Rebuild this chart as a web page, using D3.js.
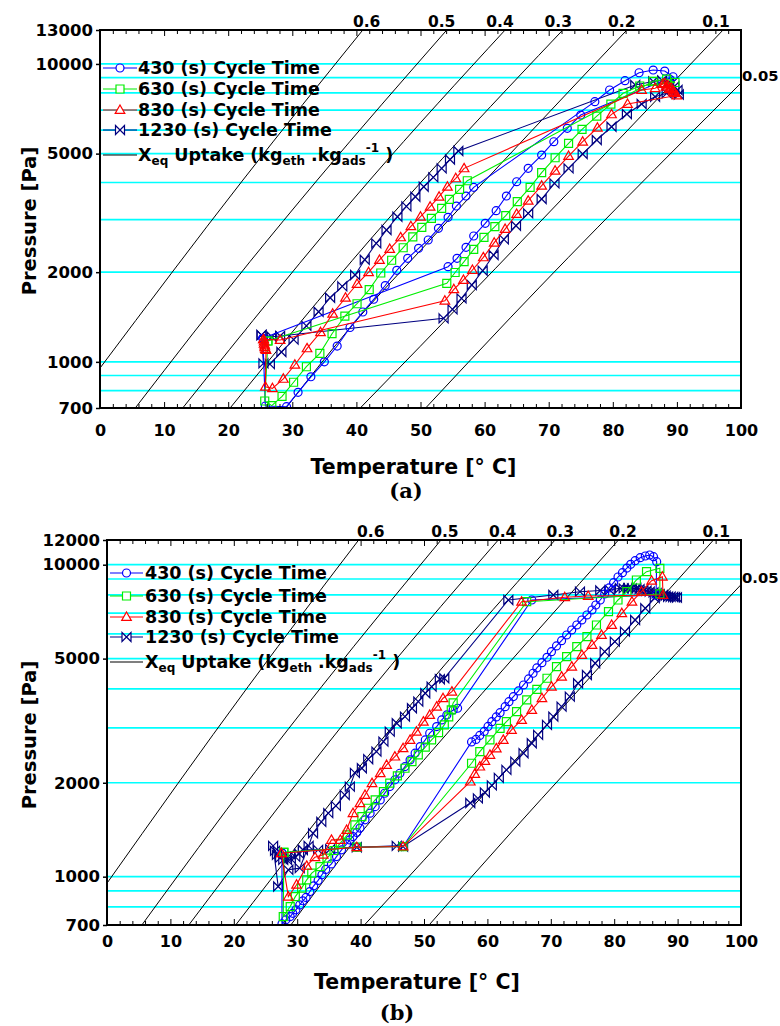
<!DOCTYPE html>
<html><head><meta charset="utf-8">
<script src="https://cdn.jsdelivr.net/npm/d3@7"></script>
<style>
body{margin:0;background:#fff;}
svg text{font-family:"DejaVu Sans",Verdana,sans-serif;font-weight:bold;fill:#000;}
</style>
</head><body>
<svg id="c" width="780" height="1026"></svg>
<script>
// ---------------- DATA ----------------
const seriesNames = ["430 (s) Cycle Time","630 (s) Cycle Time","830 (s) Cycle Time","1230 (s) Cycle Time"];
const seriesColors = ["#0000ff","#00ee00","#ff0000","#000080"];
const seriesMarkers = ["circle","square","triangle","bowtie"];

const xTickValues = [0,10,20,30,40,50,60,70,80,90,100];
const gridP = [800,900,1000,2000,3000,4000,5000,6000,7000,8000,9000,10000];
const topYTicks = [700,1000,2000,5000,10000,13000];
const botYTicks = [700,1000,2000,5000,10000,12000];

// isosteres [T degC, P Pa]
const iso_0_6  = [[0,953],[22.3,4077],[41.0,13000]];
const iso_0_5  = [[5.5,700],[23.4,2170],[33.9,4077],[54.1,13000]];
const iso_0_4  = [[12.9,700],[42.1,4077],[63.2,13000]];
const iso_0_3  = [[20.3,700],[42.1,2565],[72.2,13000]];
const iso_0_2  = [[29.0,700],[39.0,1300],[51.5,2565],[82.2,13000]];
const iso_0_1  = [[40.6,700],[49.9,1124],[97.2,13000]];
const iso_0_05 = [[50.8,700],[64.1,1412],[100,8630]];
const isoLabels = ["0.6","0.5","0.4","0.3","0.2","0.1"];
const isoLabelT = [41.6,53.3,62.4,71.5,81.4,96.1];
const isoLastLabel = "0.05";

// ---- panel (a) ----
const topBlue = [[25.4,1200],[25.8,711],[29.1,707],[30.9,790],[32.9,891],[35.0,1000],[37.0,1130],[39.0,1304],[41.0,1470],[42.7,1622],[44.5,1804],[46.3,2029],[48.0,2226],[49.7,2405],[51.2,2565],[52.8,2806],[54.3,3056],[55.6,3335],[57.1,3603],[58.3,3852],
 [77.2,7470],[79.5,8176],[81.9,8786],[84.1,9343],[86.3,9541],[88.1,9467],[89.4,9058],
 [75.0,6737],[72.9,6079],[70.8,5482],[68.9,4946],[66.8,4462],[65.0,4024],[63.4,3603],[61.8,3217],[60.1,2917],[58.3,2645],[57.1,2424],[55.7,2226],[54.3,2087],
 [25.4,1200]];
const topGreen = [[26.2,1175],[25.7,739],[26.8,713],[28.4,766],[30.2,854],[32.2,963],[34.3,1068],[36.2,1243],[38.2,1425],[40.1,1567],[42.0,1747],[43.8,1987],[45.5,2193],[47.3,2416],[48.8,2627],[50.2,2828],[51.7,3032],[53.3,3276],[54.5,3512],[56.1,3793],[57.3,4055],
 [86.3,8745],[88.4,8897],[89.7,8664],[84.2,8433],[81.6,7969],[79.7,7336],[77.5,6685],[75.2,6032],[73.1,5414],[71.0,4844],[68.9,4314],[67.1,3852],[65.1,3448],[63.3,3094],[61.6,2842],[59.9,2618],[58.3,2386],[56.8,2169],[55.4,1995],[54.1,1835],
 [26.2,1175]];
const topRed = [[25.5,1190],[25.6,1170],[25.6,1150],[25.7,1135],[25.7,1120],[25.8,1105],[25.9,1095],
 [25.8,825],[26.9,815],[28.6,877],[30.4,978],[32.3,1110],[34.4,1257],[36.3,1451],[38.3,1641],[40.1,1825],[41.9,1999],[43.6,2198],[45.2,2392],[46.9,2618],[48.5,2852],[50.0,3070],[51.5,3317],[52.9,3584],[54.2,3871],[55.5,4131],[56.8,4462],
 [84.5,8176],[86.6,8283],[87.8,8560],[88.1,8611],[88.6,8470],[88.3,8380],[88.8,8230],[89.1,8302],[89.4,8140],[89.5,8050],[89.7,7970],[90.0,7836],
 [82.3,7336],[79.8,6774],[77.6,6107],[75.3,5482],[73.1,4908],[71.0,4382],[68.9,3901],[66.8,3475],[65.0,3135],[63.2,2791],[61.5,2512],[59.8,2243],[58.1,2034],[56.7,1883],[55.2,1752],[53.8,1604],
 [28.1,1184],[25.5,1190]];
const topNavy = [[25.2,1230],[25.5,988],[26.5,983],[28.3,1079],[30.2,1188],[32.2,1321],[34.1,1473],[35.9,1641],[37.8,1793],[39.8,1957],[41.3,2202],[43.1,2500],[44.7,2771],[46.4,3070],[47.8,3327],[49.2,3584],[50.5,3871],[52.0,4163],[53.3,4462],[54.6,4777],[55.9,5102],
 [83.5,8499],[86.3,8732],[87.7,8800],[88.8,8664],[89.6,8401],[90.1,8176],[90.3,7897],
 [88.4,7969],[86.6,7763],[84.5,7336],[82.2,6790],[79.8,6155],[77.5,5555],[75.3,4985],[73.1,4462],[70.9,3974],[68.9,3520],[66.8,3152],[64.9,2864],[63.0,2578],[61.4,2284],[59.7,2023],[58.0,1811],[56.4,1634],[55.0,1501],[53.6,1400],
 [28.1,1221],[26.8,1214],[25.2,1230]];

// ---- panel (b) ----
const botBlue = [[27.6,1192],[27.6,706],[28.2,727],[28.9,745],[29.3,763],[29.8,783],[30.4,812],[30.9,837],[31.4,858],[32.0,896],[32.6,935],[33.3,973],[33.9,1014],[34.5,1055],[35.4,1099],[36.2,1160],[37.0,1219],[37.8,1274],[38.3,1312],[38.8,1344],[39.4,1386],[39.9,1431],[40.7,1521],[41.5,1598],[42.3,1677],[43.1,1762],[43.8,1851],[44.6,1944],[45.4,2043],[46.2,2146],[47.0,2253],[47.8,2367],[48.6,2488],[49.4,2612],[50.2,2744],[50.9,2883],[52.0,3027],[52.8,3180],[53.6,3299],[54.6,3423],[55.3,3466],
 [67.0,7707],[86.6,8000],[86.7,10224],
 [86.2,10608],[85.6,10742],[84.9,10663],[84.1,10530],[83.3,10300],[82.6,10029],[82.0,9754],[81.3,9427],[80.6,9132],[79.9,8758],[79.2,8425],[78.5,8057],[77.8,7707],[77.1,7428],[76.5,7159],[75.7,6900],[74.9,6650],[74.1,6409],[73.3,6177],[72.5,5953],[71.7,5709],[70.9,5490],[70.1,5263],[69.4,5050],[68.6,4853],[67.8,4669],[67.2,4488],[66.5,4304],[65.7,4116],[64.9,3939],[64.1,3777],[63.4,3639],[62.8,3507],[62.0,3355],[61.4,3251],[60.7,3140],[60.1,3031],[59.5,2922],[58.8,2836],[58.2,2754],[57.5,2704],
 [46.7,1249],[39.4,1243],[27.6,1192]];
const botGreen = [[27.9,1197],[27.8,745],[28.9,802],[29.7,863],[30.7,919],[31.5,977],[32.3,1027],[33.6,1077],[34.7,1147],[35.8,1213],[36.8,1280],[37.9,1361],[39.1,1466],[40.2,1558],[41.2,1657],[42.3,1762],[43.6,1873],[44.6,1994],[45.8,2104],[47.0,2226],[48.1,2337],[49.1,2457],[50.2,2600],[51.2,2744],[52.3,2896],[53.2,3065],[53.9,3251],[54.3,3423],[54.6,3606],
 [66.2,7611],[87.2,8057],[87.2,9738],
 [85.1,9497],[83.5,8933],[82.0,8195],[80.6,7707],[79.1,7070],[77.2,6409],[75.7,5879],[74.1,5461],[72.5,5073],[70.9,4712],[69.4,4326],[67.8,3987],[66.2,3685],[64.6,3380],[63.0,3140],[62.0,2987],[60.4,2744],[58.8,2517],[57.5,2310],
 [46.7,1249],[39.4,1243],[27.9,1197]];
const botRed = [[27.5,1189],[28.6,863],[29.9,942],[31.5,1083],[32.8,1155],[34.1,1175],[35.4,1312],[36.8,1312],[37.8,1412],[38.8,1598],[39.9,1720],[40.7,1828],[41.8,1994],[43.1,2146],[44.1,2281],[45.4,2426],[46.7,2581],[47.8,2744],[48.8,2917],[49.9,3140],[50.9,3299],[52.0,3507],[53.0,3732],[54.4,3918],
 [65.4,7611],[72.2,7864],[75.9,7939],[87.7,7998],[87.6,9153],
 [85.9,8887],[84.3,8195],[82.8,7611],[81.2,6986],[79.6,6409],[78.0,5953],[76.5,5530],[74.9,5137],[73.3,4712],[71.7,4377],[70.1,4065],[68.6,3732],[67.0,3423],[65.4,3180],[63.8,2954],[62.5,2744],[61.4,2577],[60.4,2457],[59.6,2350],[58.8,2253],[58.0,2135],[57.3,2017],
 [46.7,1249],[39.4,1243],[27.5,1189]];
const botNavy = [[30.9,1219],[30.3,1184],[29.7,1158],[29.0,1141],[28.4,1132],[27.8,1132],[27.3,1149],[26.8,1175],[26.5,1210],[26.2,1255],
 [27.0,930],[28.6,1052],[30.4,1065],[31.8,1255],[32.5,1378],[33.8,1499],[34.9,1598],[36.1,1686],[37.5,1828],[38.3,1944],[39.1,2151],[40.2,2226],[41.2,2380],[42.5,2517],[43.6,2710],[44.6,2917],[45.7,3103],[47.0,3258],[48.1,3466],[49.1,3639],[50.2,3872],[51.2,4065],[52.5,4294],[53.2,4326],
 [63.3,7707],[70.4,7998],[74.6,8195],[77.8,8268],[79.3,8298],[80.9,8402],[81.5,8400],[82.2,8402],[82.8,8400],[83.5,8402],[84.0,8350],[84.6,8298],[85.1,8250],[85.6,8195],[86.2,8150],[86.7,8098],[87.2,8050],[87.7,7998],[88.1,7950],[88.5,7897],[88.9,7890],[89.3,7880],[89.6,7865],[89.9,7850],
 [86.4,7822],[84.9,7249],[83.3,6650],[81.7,6100],[80.1,5666],[78.5,5263],[77.0,4832],[75.7,4432],[74.3,4168],[73.0,3777],[71.7,3507],[70.4,3258],[69.4,3065],[68.0,2847],[67.0,2678],[65.7,2488],[64.4,2337],[63.0,2199],[61.8,2073],[60.7,1962],[59.6,1862],[58.5,1782],[57.3,1723],
 [46.7,1249],[45.7,1255],[39.4,1243],[35.2,1225],[33.3,1219],[30.9,1219]];

// ---------------- DRAW ----------------
const svg = d3.select("#c");
const defs = svg.append("defs");
const isostereLines = [iso_0_6, iso_0_5, iso_0_4, iso_0_3, iso_0_2, iso_0_1, iso_0_05];

const markerPath = {
  circle: d3.symbol(d3.symbolCircle, 50)(),
  square: "M-4,-4H4V4H-4Z",
  triangle: "M0,-5L4.8,3.4L-4.8,3.4Z",
  bowtie: "M-4.5,-4.5L4.5,4.5L4.5,-4.5L-4.5,4.5Z"
};

const panels = [
  {id:"a", x0:100, x1:741, y0:30, y1:408, pMax:13000, yTicks:topYTicks,
   series:[topBlue, topGreen, topRed, topNavy],
   legLine:[103,137], legText:138, legRows:[68,89,110,130,155],
   xLabelPad:17, titleY:474, tagY:498, tagX:406, tag:"(a)", yTitleY:221},
  {id:"b", x0:107, x1:741, y0:540, y1:925, pMax:12000, yTicks:botYTicks,
   series:[botBlue, botGreen, botRed, botNavy],
   legLine:[110,143], legText:145, legRows:[573,596,617,637,662],
   xLabelPad:11, titleY:989, tagY:1020, tagX:397, tag:"(b)", yTitleY:735}
];

const drawOrder = [3,0,1,2];

panels.forEach(cfg => {
  const x = d3.scaleLinear().domain([0,100]).range([cfg.x0, cfg.x1]);
  const y = d3.scaleLog().domain([700, cfg.pMax]).range([cfg.y1, cfg.y0]);
  const g = svg.append("g");
  const clipId = "clip" + cfg.id;
  defs.append("clipPath").attr("id", clipId).append("rect")
    .attr("x", cfg.x0).attr("y", cfg.y0)
    .attr("width", cfg.x1 - cfg.x0).attr("height", cfg.y1 - cfg.y0);

  // grid
  g.append("g").selectAll("line").data(gridP).enter().append("line")
    .attr("x1", cfg.x0).attr("x2", cfg.x1)
    .attr("y1", d => y(d)).attr("y2", d => y(d))
    .attr("stroke", "#00ffff").attr("stroke-width", 1.7);

  const pl = g.append("g").attr("clip-path", `url(#${clipId})`);
  // isosteres
  const isoLine = d3.line().x(d => x(d[0])).y(d => y(d[1])).curve(d3.curveMonotoneX);
  isostereLines.forEach(L => pl.append("path").attr("d", isoLine(L))
    .attr("fill", "none").attr("stroke", "#000").attr("stroke-width", 1));

  // series
  const sLine = d3.line().x(d => x(d[0])).y(d => y(d[1]));
  drawOrder.forEach(i => {
    const data = cfg.series[i];
    pl.append("path").attr("d", sLine(data)).attr("fill", "none")
      .attr("stroke", seriesColors[i]).attr("stroke-width", 1.1);
    pl.append("g").selectAll("path").data(data).enter().append("path")
      .attr("d", markerPath[seriesMarkers[i]])
      .attr("transform", d => `translate(${x(d[0])},${y(d[1])})`)
      .attr("fill", "none").attr("stroke", seriesColors[i]).attr("stroke-width", 1.2);
  });

  // isostere labels
  isoLabels.forEach((lab, k) => {
    g.append("text").attr("x", x(isoLabelT[k])).attr("y", cfg.y0 - 3)
      .attr("text-anchor", "middle").attr("font-size", 15.5).text(lab);
  });
  const last = iso_0_05[iso_0_05.length - 1];
  g.append("text").attr("x", 742).attr("y", y(last[1]) - 2)
    .attr("font-size", 14.8).text(isoLastLabel);

  // axes
  const xAxisB = d3.axisBottom(x).tickValues(d3.range(0, 101, 2)).tickSize(-4)
    .tickPadding(cfg.xLabelPad).tickFormat(d => xTickValues.includes(d) ? d : "");
  const gxb = g.append("g").attr("transform", `translate(0,${cfg.y1})`).call(xAxisB);
  gxb.select(".domain").remove();
  gxb.selectAll("line").attr("stroke", "#000").attr("stroke-width", 1);
  gxb.selectAll(".tick").filter(d => xTickValues.includes(d)).select("line").attr("y2", -6);
  gxb.selectAll("text").attr("font-size", 16).attr("font-family", '"DejaVu Sans",sans-serif').attr("font-weight", "bold");

  const xAxisT = d3.axisTop(x).tickValues(d3.range(0, 101, 2)).tickSize(-4).tickFormat("");
  const gxt = g.append("g").attr("transform", `translate(0,${cfg.y0})`).call(xAxisT);
  gxt.select(".domain").remove();
  gxt.selectAll("line").attr("stroke", "#000").attr("stroke-width", 1);
  gxt.selectAll(".tick").filter(d => xTickValues.includes(d)).select("line").attr("y2", 6);

  const yAxis = d3.axisLeft(y).tickValues(cfg.yTicks).tickSize(4).tickPadding(3)
    .tickFormat(d3.format("d"));
  const gy = g.append("g").attr("transform", `translate(${cfg.x0},0)`).call(yAxis);
  gy.select(".domain").remove();
  gy.selectAll("line").attr("stroke", "#000").attr("stroke-width", 1.5);
  gy.selectAll("text").attr("font-size", 16.5).attr("font-family", '"DejaVu Sans",sans-serif').attr("font-weight", "bold");

  // frame
  g.append("rect").attr("x", cfg.x0).attr("y", cfg.y0)
    .attr("width", cfg.x1 - cfg.x0).attr("height", cfg.y1 - cfg.y0)
    .attr("fill", "none").attr("stroke", "#000").attr("stroke-width", 2);

  // titles
  g.append("text").attr("x", (cfg.x0 + cfg.x1) / 2 - 7).attr("y", cfg.titleY)
    .attr("text-anchor", "middle").attr("font-size", 20.5).text("Temperature [° C]");
  g.append("text").attr("transform", `translate(36,${cfg.yTitleY}) rotate(-90)`)
    .attr("text-anchor", "middle").attr("font-size", 19.5).text("Pressure [Pa]");
  g.append("text").attr("x", cfg.tagX).attr("y", cfg.tagY)
    .attr("text-anchor", "middle").attr("font-size", 21)
    .style("font-family", '"DejaVu Serif","Liberation Serif",serif')
    .style("font-weight", "bold").text(cfg.tag);

  // legend
  const lg = g.append("g");
  seriesNames.forEach((nm, i) => {
    const ry = cfg.legRows[i];
    lg.append("line").attr("x1", cfg.legLine[0]).attr("x2", cfg.legLine[1])
      .attr("y1", ry).attr("y2", ry).attr("stroke", seriesColors[i]).attr("stroke-width", 1.2);
    lg.append("path").attr("d", markerPath[seriesMarkers[i]])
      .attr("transform", `translate(${(cfg.legLine[0] + cfg.legLine[1]) / 2},${ry})`)
      .attr("fill", "#fff").attr("stroke", seriesColors[i]).attr("stroke-width", 1.2);
    lg.append("text").attr("x", cfg.legText).attr("y", ry + 6.3).attr("font-size", 17.5).text(nm);
  });
  const ry = cfg.legRows[4];
  lg.append("line").attr("x1", cfg.legLine[0]).attr("x2", cfg.legLine[1])
    .attr("y1", ry).attr("y2", ry).attr("stroke", "#000").attr("stroke-width", 1.2);
  const t = lg.append("text").attr("x", cfg.legText).attr("y", ry + 6.3).attr("font-size", 17.5);
  t.append("tspan").text("X");
  t.append("tspan").attr("dy", 4).attr("font-size", 12).text("eq");
  t.append("tspan").attr("dy", -4).text(" Uptake (kg");
  t.append("tspan").attr("dy", 4).attr("font-size", 12).text("eth");
  t.append("tspan").attr("dy", -4).text(" .kg");
  t.append("tspan").attr("dy", 4).attr("font-size", 12).text("ads");
  t.append("tspan").attr("dy", -13).attr("font-size", 12).text("-1");
  t.append("tspan").attr("dy", 9).text(" )");
});
</script>
</body></html>
